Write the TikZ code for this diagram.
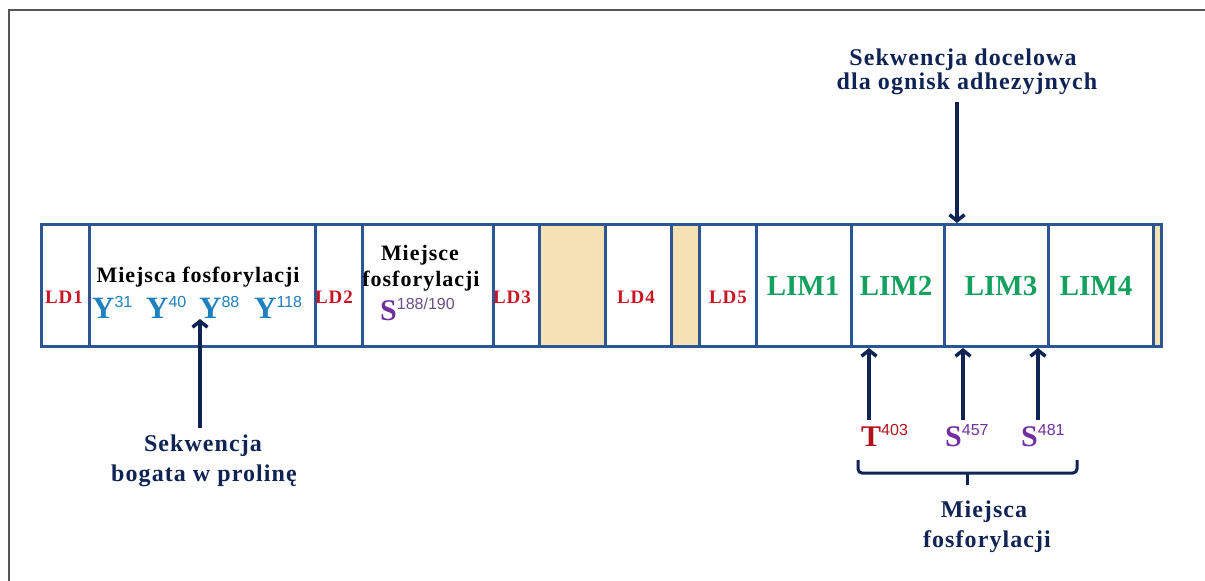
\documentclass[tikz,border=0pt]{standalone}
\usepackage{fontspec}
\setmainfont{Liberation Serif}
\newfontfamily\lsp[LetterSpace=4.5]{Liberation Serif}
\newfontfamily\arl{Liberation Sans}
\usetikzlibrary{arrows.meta}
\definecolor{barblue}{RGB}{45,85,145}
\definecolor{navy}{RGB}{15,35,85}
\definecolor{ldred}{RGB}{200,20,35}
\definecolor{limgreen}{RGB}{20,160,95}
\definecolor{yblue}{RGB}{30,128,190}
\definecolor{spurple}{RGB}{112,48,160}
\definecolor{supgray}{RGB}{105,80,135}
\definecolor{tred}{RGB}{175,20,30}
\definecolor{tanfill}{RGB}{245,225,180}
\definecolor{framegray}{RGB}{85,85,85}
\newcommand\fsz[1]{\fontsize{#1}{#1}\selectfont}
\newcommand\resid[5]{{\color{#1}\fsz{#5}\bfseries #2}\raisebox{11pt}{\color{#3}\arl\fsz{16}#4}}
\begin{document}
\begin{tikzpicture}[x=1pt,y=-1pt,
  cell/.style={draw=barblue, line width=3pt, inner sep=0pt, minimum height=122pt, anchor=north west, fill=white},
  tancell/.style={cell, fill=tanfill},
  ldlab/.style={anchor=base, inner sep=0pt, text=ldred, font=\lsp\bfseries\fsz{19}},
  limlab/.style={anchor=base, inner sep=0pt, text=limgreen, font=\bfseries\fsz{29}},
  intext/.style={anchor=base, inner sep=0pt, text=black, font=\lsp\bfseries\fsz{22}},
  outtext/.style={anchor=base, inner sep=0pt, text=navy, font=\lsp\bfseries\fsz{24}},
  res/.style={anchor=base west, inner sep=0pt},
  arr/.style={draw=navy, line width=3.5pt, -{Straight Barb[length=6pt,width=15pt]}}]
\path[use as bounding box] (0,0) rectangle (1205,581);
\draw[framegray, line width=2pt] (9,581) -- (9,10) -- (1205,10);
% cells
\node[cell, minimum width=48pt] (c1) at (40,223) {};
\node[cell, minimum width=226pt] (c2) at (88,223) {};
\node[cell, minimum width=47pt] (c3) at (314,223) {};
\node[cell, minimum width=131pt] (c4) at (361,223) {};
\node[cell, minimum width=46pt] (c5) at (492,223) {};
\node[tancell, minimum width=66pt] (c6) at (538,223) {};
\node[cell, minimum width=66pt] (c7) at (604,223) {};
\node[tancell, minimum width=28pt] (c8) at (670,223) {};
\node[cell, minimum width=57pt] (c9) at (698,223) {};
\node[cell, minimum width=95pt] (c10) at (755,223) {};
\node[cell, minimum width=93pt] (c11) at (850,223) {};
\node[cell, minimum width=104pt] (c12) at (943,223) {};
\node[cell, minimum width=105pt] (c13) at (1047,223) {};
\node[tancell, minimum width=8pt] (c14) at (1152,223) {};
% cell labels
\node[ldlab] (ld1) at (64,303) {LD1};
\node[ldlab] (ld2) at (334,303) {LD2};
\node[ldlab] (ld3) at (512,303) {LD3};
\node[ldlab] (ld4) at (636,303) {LD4};
\node[ldlab] (ld5) at (728,303) {LD5};
\node[limlab] (lim1) at (803,295) {LIM1};
\node[limlab] (lim2) at (896,295) {LIM2};
\node[limlab] (lim3) at (1001,295) {LIM3};
\node[limlab] (lim4) at (1096,295) {LIM4};
\node[intext] (mf1) at (198,282) {Miejsca fosforylacji};
\node[intext] (mf2a) at (420,260) {Miejsce};
\node[intext] (mf2b) at (421,286) {fosforylacji};
% residues
\node[res] (y31) at (92,318) {\resid{yblue}{Y}{yblue}{31}{31}};
\node[res] (y40) at (146,318) {\resid{yblue}{Y}{yblue}{40}{31}};
\node[res] (y88) at (199,318) {\resid{yblue}{Y}{yblue}{88}{31}};
\node[res] (y118) at (254,318) {\resid{yblue}{Y}{yblue}{118}{31}};
\node[res] (s188) at (380,320) {\resid{spurple}{S}{supgray}{188/190}{30}};
\node[res] (t403) at (861,446) {\resid{tred}{T}{tred}{403}{30}};
\node[res] (s457) at (945,446) {\resid{spurple}{S}{spurple}{457}{30}};
\node[res] (s481) at (1021,446) {\resid{spurple}{S}{spurple}{481}{30}};
% outer labels
\node[outtext] (top1) at (963,65) {Sekwencja docelowa};
\node[outtext] (top2) at (967,89) {dla ognisk adhezyjnych};
\node[outtext] (pro1) at (203,451) {Sekwencja};
\node[outtext] (pro2) at (204,481) {bogata w prolinę};
\node[outtext] (ph1) at (984,517) {Miejsca};
\node[outtext] (ph2) at (987,547) {fosforylacji};
% arrows
\coordinate (ta) at (957,102);
\draw[arr] (ta) -- (ta |- c12.north);
\coordinate (pa) at (200,428);
\coordinate (pe) at (200,319);
\draw[arr] (pa) -- (pe);
\coordinate (ra1) at (869,420);
\coordinate (ra2) at (963,420);
\coordinate (ra3) at (1038,420);
\draw[arr] (ra1) -- (ra1 |- c11.south);
\draw[arr] (ra2) -- (ra2 |- c12.south);
\draw[arr] (ra3) -- (ra3 |- c12.south);
% brace
\draw[navy, line width=3pt, rounded corners=4pt] (858,460) -- (858,473) -- (1077,473) -- (1077,460);
\draw[navy, line width=3pt] (967,473) -- (967,485);
\end{tikzpicture}
\end{document}
